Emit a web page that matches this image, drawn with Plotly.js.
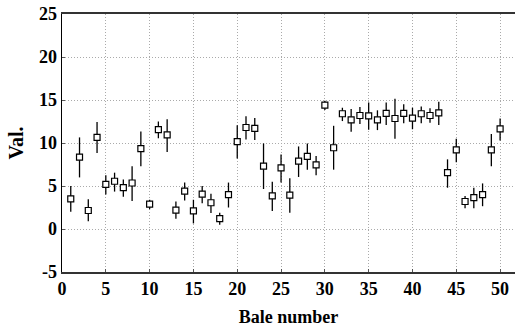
<!DOCTYPE html>
<html>
<head>
<meta charset="utf-8">
<script src="https://cdn.plot.ly/plotly-3.0.1.min.js"></script>
<style>html,body{margin:0;padding:0;background:#fff;}#chart{width:515px;height:329px;}</style>
</head>
<body>
<div id="chart"></div>
<script>
const bale = [1,2,3,4,5,6,7,8,9,10,11,12,13,14,15,16,17,18,19,20,21,22,23,24,25,26,27,28,29,30,31,32,33,34,35,36,37,38,39,40,41,42,43,44,45,46,47,48,49,50];
const meanVal = [3.5,8.35,2.15,10.65,5.2,5.55,4.8,5.35,9.35,2.9,11.55,10.95,2.2,4.4,2.1,4.05,3.05,1.2,4.0,10.15,11.8,11.7,7.3,3.85,7.1,3.95,7.9,8.45,7.45,14.4,9.45,13.4,12.7,13.2,13.15,12.7,13.45,12.85,13.45,12.9,13.4,13.2,13.5,6.55,9.2,3.2,3.65,4.0,9.2,11.65];
const upperVal = [5.0,10.65,3.45,12.45,6.25,6.55,5.75,7.3,11.35,3.4,12.5,12.75,3.2,5.4,3.4,5.0,4.1,1.9,5.4,12.05,13.1,12.9,9.95,5.5,8.65,5.9,9.6,9.95,8.5,14.9,12.0,14.1,13.95,14.2,14.7,13.8,14.7,15.15,14.5,14.1,14.25,14.05,14.8,8.1,10.5,3.85,4.8,5.3,11.05,12.85];
const lowerVal = [2.0,6.0,0.9,8.85,4.0,4.35,3.75,3.25,7.3,2.3,10.55,8.95,1.2,3.3,0.65,3.0,1.85,0.5,2.5,8.2,10.4,10.35,4.65,2.1,5.4,1.9,6.05,6.9,6.25,13.85,6.9,12.55,11.3,12.2,11.55,11.5,12.1,10.5,12.3,11.6,12.3,12.35,12.1,4.8,7.75,2.4,2.4,2.65,7.3,10.3];
const xTicks = [0,5,10,15,20,25,30,35,40,45,50];
const yTicks = [-5,0,5,10,15,20,25];

const errPlus = upperVal.map((u,i)=>u-meanVal[i]);
const errMinus = meanVal.map((m,i)=>m-lowerVal[i]);

const serif = '"Liberation Serif", serif';
const trace = {
  x: bale, y: meanVal, type: 'scatter', mode: 'markers',
  marker: {symbol: 'square', size: 6, color: '#fff', line: {width: 1.2, color: '#000'}},
  error_y: {type: 'data', symmetric: false, array: errPlus, arrayminus: errMinus, color: '#000', thickness: 1.3, width: 0},
  hoverinfo: 'none'
};
const layout = {
  width: 515, height: 329,
  font: {family: serif, size: 18, color: '#000'},
  margin: {l: 62, r: 0, t: 14, b: 57, pad: 0},
  paper_bgcolor: '#fff', plot_bgcolor: '#fff',
  showlegend: false,
  xaxis: {
    range: [0, 51.7], tickvals: xTicks, ticktext: xTicks.map(v => '<b>' + v + '</b>'),
    showgrid: true, gridcolor: '#aaa', griddash: '1px,2px', gridwidth: 1,
    zeroline: false, showline: true, linecolor: '#333', linewidth: 1.8, mirror: true,
    ticks: 'inside', ticklen: 3, tickcolor: '#555',
    tickfont: {family: serif, size: 18, color: '#000'},
    automargin: false,
    title: {text: '<b>Bale number</b>', font: {family: serif, size: 18, color: '#000'}, standoff: 12}
  },
  yaxis: {
    range: [-5, 25], tickvals: yTicks, ticktext: yTicks.map(v => '<b>' + v + '</b>'),
    showgrid: true, gridcolor: '#aaa', griddash: '1px,2px', gridwidth: 1,
    zeroline: false, showline: true, linecolor: '#000', linewidth: 1.5, mirror: true,
    ticks: 'inside', ticklen: 3, tickcolor: '#555',
    tickfont: {family: serif, size: 18, color: '#000'},
    automargin: false,
    title: {text: '<b>Val.</b>', font: {family: serif, size: 20, color: '#000'}, standoff: 10}
  }
};
Plotly.newPlot('chart', [trace], layout, {staticPlot: true, displayModeBar: false});
</script>
</body>
</html>
